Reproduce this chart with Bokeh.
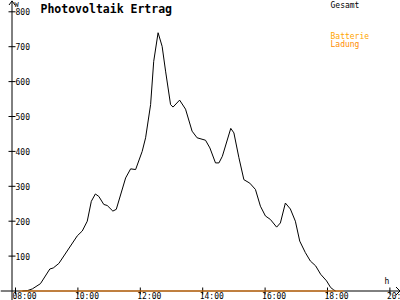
from bokeh.plotting import figure
from bokeh.models import Range1d
from bokeh.core.properties import value
from bokeh.embed import file_html
from bokeh.resources import INLINE

title_text = "Photovoltaik Ertrag"
x_ticks = [8, 10, 12, 14, 16, 18, 20]
x_tick_labels = ["08:00", "10:00", "12:00", "14:00", "16:00", "18:00", "20:00"]
y_ticks = [100, 200, 300, 400, 500, 600, 700, 800]
y_tick_labels = ["100", "200", "300", "400", "500", "600", "700", "800"]
unit_y = "W"
unit_x = "h"

pv_time = [8.22, 8.38, 8.54, 8.80, 9.10, 9.21, 9.39, 9.98, 10.14, 10.30,
           10.43, 10.56, 10.67, 10.83, 10.94, 11.12, 11.23, 11.53, 11.69, 11.85,
           12.06, 12.17, 12.33, 12.43, 12.57, 12.70, 12.81, 12.97, 13.05, 13.26,
           13.45, 13.66, 13.82, 14.09, 14.23, 14.41, 14.52, 14.63, 14.90, 15.00,
           15.16, 15.32, 15.51, 15.69, 15.85, 16.01, 16.17, 16.37, 16.49, 16.65,
           16.81, 16.97, 17.11, 17.29, 17.45, 17.62, 17.78, 17.97, 18.10, 18.20,
           18.26]
pv_power = [0, 1, 6, 21, 63, 66, 79, 158, 172, 200,
            257, 278, 271, 248, 245, 229, 234, 324, 350, 348,
            400, 439, 534, 658, 740, 701, 630, 534, 527, 547,
            521, 458, 439, 432, 410, 367, 367, 386, 466, 453,
            382, 319, 309, 291, 243, 215, 205, 183, 195, 252,
            235, 200, 143, 110, 86, 72, 48, 29, 10, 3,
            0]
bat_time = [8.13, 18.51]
bat_power = [0, 0]

legend_names = ["Gesamt", "Batterie", "Ladung"]
legend_colors = ["#000000", "#FFA500", "#FF8C00"]
bat_color = "#FF8000"

# pixel <-> data helpers (layout only)
X0PX, PXH = 15.0, 31.2
Y0PX, PXW = 290.5, 0.349


def tx(px):
    return 8 + (px - X0PX) / PXH


def ty(py):
    return (Y0PX - py) / PXW


p = figure(width=400, height=300, x_range=Range1d(tx(0), tx(400)),
           y_range=Range1d(ty(300), ty(0)), output_backend="svg",
           toolbar_location=None, min_border=0, x_axis_type=None,
           y_axis_type=None, outline_line_color=None)
p.grid.visible = False
p.background_fill_color = "white"
p.border_fill_color = "white"

mono = value("DejaVu Sans Mono")

# axes
p.line([tx(11.5), tx(11.5)], [ty(300), ty(0)], line_color="black", line_width=1)
p.line([tx(0), tx(399.5)], [0, 0], line_color="black", line_width=1)
# arrows
p.line([tx(8.5), tx(11.5), tx(14.5)], [ty(4.5), ty(0.5), ty(4.5)], line_color="black", line_width=1)
p.line([tx(395.5), tx(399.5), tx(395.5)], [ty(286.5), ty(290.5), ty(294.5)], line_color="black", line_width=1)

# ticks
p.segment(x0=[tx(8)] * len(y_ticks), x1=[tx(15)] * len(y_ticks), y0=y_ticks, y1=y_ticks,
          line_color="black", line_width=1)
p.segment(x0=x_ticks, x1=x_ticks, y0=[ty(287)] * len(x_ticks), y1=[ty(294)] * len(x_ticks),
          line_color="black", line_width=1)

# tick labels
p.text(x=[tx(15)] * len(y_ticks), y=y_ticks, text=y_tick_labels, text_font=mono,
       text_font_size="8px", text_baseline="middle", text_align="left", text_color="black")
p.text(x=x_ticks, y=[ty(291)] * len(x_ticks), text=x_tick_labels, text_font=mono,
       text_font_size="8px", text_baseline="top", text_align="left", x_offset=-3,
       text_color="black")

# unit labels
p.text(x=[tx(14)], y=[ty(0)], text=[unit_y], text_font=mono, text_font_size="7px",
       text_baseline="top", text_align="left", text_color="black")
p.text(x=[tx(384)], y=[ty(276.5)], text=[unit_x], text_font=mono, text_font_size="8px",
       text_baseline="top", text_align="left", text_color="black")

# data
p.line(pv_time, pv_power, line_color="black", line_width=1)
p.line(bat_time, bat_power, line_color=bat_color, line_width=1.2)

# title
p.text(x=[tx(40)], y=[ty(1)], text=[title_text], text_font=mono, text_font_size="11.5px",
       text_font_style="bold", text_baseline="top", text_align="left", text_color="black")

# legend
p.text(x=[tx(330)] * 3, y=[ty(0), ty(31), ty(39)], text=legend_names, text_font=mono,
       text_font_size="8px", text_baseline="top", text_align="left",
       text_color=legend_colors)

open("out.html", "w").write(file_html(p, INLINE))
